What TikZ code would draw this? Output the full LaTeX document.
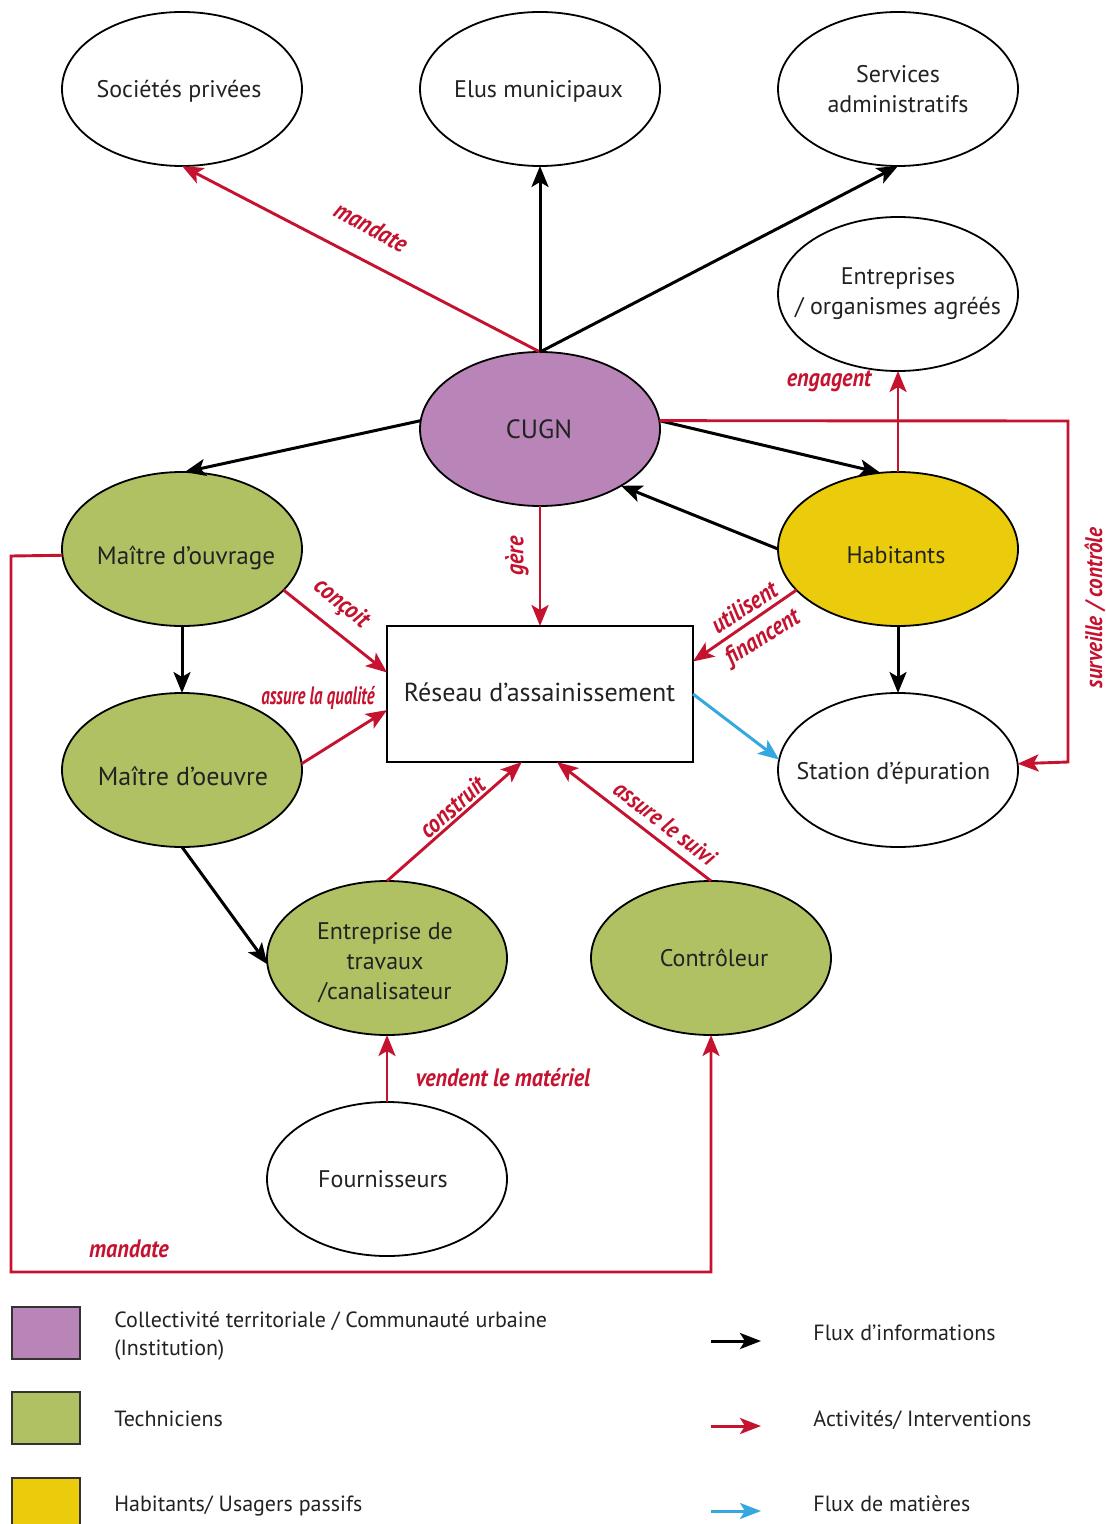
\documentclass[tikz,border=0pt]{standalone}
\usepackage{fontspec}
\setmainfont{PT Sans}
\newfontfamily\redfont[FakeStretch=0.88]{PT Sans}
\usetikzlibrary{shapes.geometric,arrows.meta}
\definecolor{cpurple}{HTML}{B985B8}
\definecolor{cgreen}{HTML}{B0C164}
\definecolor{cyellow}{HTML}{EACC0C}
\definecolor{cred}{HTML}{C4122F}
\definecolor{cblue}{HTML}{35A8E0}
\definecolor{cink}{HTML}{222222}
% text placed with its baseline at an offset from the node centre, without resizing the node
\newcommand\ptext[3]{\makebox[0pt]{\hspace{#1pt}\raisebox{#2pt}[0pt][0pt]{#3}}}
\tikzset{
  actor/.style={ellipse,draw=black,line width=0.9pt,minimum width=120pt,minimum height=77pt,inner sep=0pt,outer sep=0pt,font=\fontsize{12}{15}\selectfont,text=cink},
  swatch/.style={rectangle,draw=black!80,line width=1pt,minimum width=34pt,minimum height=26pt,inner sep=0pt,outer sep=0pt},
  legtext/.style={anchor=west,align=left,inner sep=0pt,font=\fontsize{11}{14}\selectfont,text=cink},
  redlabel/.style={text=cred,inner sep=0pt,font=\redfont\bfseries\itshape\fontsize{12.6}{15}\selectfont},
  arrow/.style={line width=1.5pt,-{Stealth[length=10.5pt,width=8.5pt,inset=2.5pt]}},
  info/.style={arrow,draw=black},
  activity/.style={arrow,draw=cred,line width=1.45pt},
  matter/.style={arrow,draw=cblue,line width=1.5pt},
  legarrow/.style={line width=1.5pt,-{Stealth[length=10.5pt,width=8pt,inset=2.5pt]}}
}
\begin{document}
\begin{tikzpicture}[x=0.5pt,y=-0.5pt]
\useasboundingbox (0,0) rectangle (1106,1524);
\node[actor] (soc) at (182,89) {\ptext{-3}{-4.25}{Sociétés privées}};
\node[actor] (elus) at (540,89) {\ptext{-1.5}{-4.25}{Elus municipaux}};
\node[actor] (serv) at (898,89) {\ptext{0}{-4.4}{\tabcolsep=0pt\begin{tabular}{c}Services\\administratifs\end{tabular}}};
\node[actor] (ent) at (898,294) {\ptext{0}{-2.8}{\tabcolsep=0pt\begin{tabular}{c}Entreprises\\/ organismes agréés\end{tabular}}};
\node[actor,fill=cpurple,font=\fontsize{13.2}{15}\selectfont] (cugn) at (540,429) {\ptext{-1}{-4.75}{CUGN}};
\node[actor,fill=cgreen,font=\fontsize{12.6}{15}\selectfont] (mo) at (182,549) {\ptext{4}{-7.75}{Maître d’ouvrage}};
\node[actor,fill=cyellow] (hab) at (898,549) {\ptext{-2}{-7.25}{Habitants}};
\node[actor,fill=cgreen,font=\fontsize{13}{15}\selectfont] (moe) at (182,770) {\ptext{1}{-7.75}{Maître d’oeuvre}};
\node[actor] (sta) at (898,770) {\ptext{-4.5}{-4.5}{Station d’épuration}};
\node[actor,fill=cgreen] (trav) at (387,958) {\ptext{-2}{-5.75}{\tabcolsep=0pt\begin{tabular}{c}Entreprise de\\travaux\\/canalisateur\end{tabular}}};
\node[actor,fill=cgreen] (ctrl) at (711,958) {\ptext{3}{-4.25}{Contrôleur}};
\node[actor] (four) at (387,1179) {\ptext{-4}{-4.25}{Fournisseurs}};
\node[rectangle,draw=black,line width=0.9pt,minimum width=153pt,minimum height=68pt,inner sep=0pt,outer sep=0pt,font=\fontsize{13}{15}\selectfont,text=cink] (res) at (540,694) {\ptext{-0.5}{-3.75}{Réseau d’assainissement}};

\coordinate (nw) at (1068,421);
\coordinate (se) at (1068,762);
\coordinate (m1) at (11,556);
\coordinate (m2) at (11,1272);
\coordinate (m3) at (711,1272);

\draw[activity] (cugn.north) -- (soc.south);
\draw[info] (cugn.north) -- (elus.south);
\draw[info] (cugn.north) -- (serv.south);
\draw[info] (cugn.176) -- (mo.88);
\draw[info] (cugn.4) -- (hab.103);
\draw[info] (hab.180) -- (cugn.-35);
\draw[activity] (hab.north) -- (ent.south);
\draw[activity] (cugn.4) -- (nw) -- (se) -- (sta.3.8);
\draw[activity] (cugn.south) -- (res.north);
\draw[activity] (hab.202.9) -- (res.12.5);
\draw[info] (hab.south) -- (sta.north);
\draw[activity] (mo.-22.7) -- (res.172.55);
\draw[info] (mo.south) -- (moe.north);
\draw[activity] (moe.3.8) -- (res.186.3);
\draw[matter] (res.east) -- (sta.175.2);
\draw[info] (moe.south) -- (trav.183.8);
\draw[activity] (trav.north) -- (res.255.96);
\draw[activity] (ctrl.north) -- (res.284.04);
\draw[activity] (four.north) -- (trav.south);
\draw[activity] (mo.183.3) -- (m1) -- (m2) -- (m3) -- (ctrl.south);

\node[redlabel,rotate=-29] (l1) at (371,227) {mandate};
\node[redlabel,rotate=90] (l2) at (517,556) {gère};
\node[redlabel] (l3) at (829,381) {engagent};
\node[redlabel,rotate=90,font=\redfont\bfseries\itshape\fontsize{12}{15}\selectfont] (l4) at (1095,608) {surveille / contrôle};
\node[redlabel,rotate=-39] (l5) at (341,604) {conçoit};
\node[redlabel,xscale=0.76] (l6) at (318,698) {assure la qualité};
\node[redlabel,rotate=33] (l7) at (744,607) {utilisent};
\node[redlabel,rotate=32] (l8) at (763,638) {financent};
\node[redlabel,rotate=41.5] (l9) at (452,807) {construit};
\node[redlabel,rotate=-37.7,font=\redfont\bfseries\itshape\fontsize{12.1}{15}\selectfont] (l10) at (665,823) {assure le suivi};
\node[redlabel] (l11) at (503,1078) {vendent le matériel};
\node[redlabel] (l12) at (129,1249) {mandate};

\node[swatch,fill=cpurple] (s1) at (46,1332.5) {};
\node[swatch,fill=cgreen] (s2) at (46,1417.5) {};
\node[swatch,fill=cyellow] (s3) at (46,1504) {};
\node[legtext] (t1) at (114,1336) {Collectivité territoriale / Communauté urbaine\\(Institution)};
\node[legtext] (t2) at (114,1419) {Techniciens};
\node[legtext] (t3) at (114,1506) {Habitants/ Usagers passifs};
\coordinate (a1s) at (711,1341);
\coordinate (a1e) at (761,1341);
\coordinate (a2s) at (711,1426);
\coordinate (a2e) at (761,1426);
\coordinate (a3s) at (711,1511);
\coordinate (a3e) at (761,1511);
\draw[legarrow,draw=black] (a1s) -- (a1e);
\draw[legarrow,draw=cred] (a2s) -- (a2e);
\draw[legarrow,draw=cblue] (a3s) -- (a3e);
\node[legtext] (t4) at (813,1333) {Flux d’informations};
\node[legtext] (t5) at (813,1420) {Activités/ Interventions};
\node[legtext] (t6) at (813,1504) {Flux de matières};
\end{tikzpicture}
\end{document}
